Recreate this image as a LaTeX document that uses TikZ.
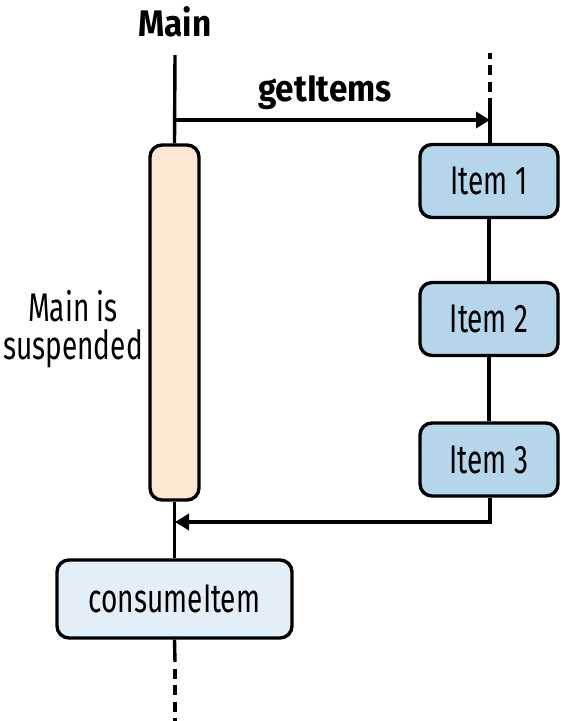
\documentclass[tikz,border=0pt]{standalone}
\usepackage{fontspec}
\setmainfont[FakeStretch=0.7,BoldFeatures={FakeStretch=0.9}]{Fira Sans}
\usetikzlibrary{arrows.meta}
\definecolor{peach}{HTML}{FCE7D3}
\definecolor{itemblue}{HTML}{B4D5EA}
\definecolor{paleblue}{HTML}{E3EFF8}
\begin{document}
\begin{tikzpicture}[x=1pt,y=-1pt,
  ln/.style={line width=3.4pt,black},
  arr/.style={ln,-{Triangle[length=14pt,width=16pt]}},
  dsh/.style={ln,dash pattern=on 10pt off 6.5pt,dash phase=10pt},
  box/.style={draw,line width=3.4pt,rounded corners=12pt,inner sep=0pt,font=\fontsize{40}{44}\selectfont},
  itembox/.style={box,fill=itemblue,minimum width=138pt,minimum height=73pt},
  lbl/.style={font=\fontsize{37}{40}\selectfont\bfseries}]
\useasboundingbox (0,0) rectangle (562,721);
\node[lbl] (main) at (175,22) {Main};
\coordinate (mtop) at (175,55);
\node[box,fill=peach,minimum width=49pt,minimum height=355pt] (susp) at (174.5,322.5) {};
\node[font=\fontsize{40}{38}\selectfont,align=center] (susptxt) at (73,329) {Main is\\suspended};
\coordinate (rtop) at (490,53);
\coordinate (rmid) at (490,98);
\node[itembox] (i1) at (489,181) {Item 1};
\node[itembox] (i2) at (489,319) {Item 2};
\node[itembox] (i3) at (489,459.5) {Item 3};
\node[box,fill=paleblue,minimum width=235pt,minimum height=78pt] (ci) at (174.5,599) {consumeItem};
\coordinate (cibot) at (175,662);
\coordinate (mend) at (175,724);
\coordinate (call) at (175,120);
\coordinate (callend) at (490,120);
\coordinate (ret) at (490,522);
\coordinate (retend) at (175,522);
\node[lbl] (gi) at (325,93) {getItems};
% lifelines
\draw[ln] (mtop) -- (susp.north);
\draw[ln] (susp.south) -- (ci.north);
\draw[ln] (ci.south) -- (cibot);
\draw[dsh] (cibot) -- (mend);
\draw[dsh] (rmid) -- (rtop);
\draw[ln] (rmid) -- (i1.north -| rmid);
\draw[ln] (i1) -- (i2);
\draw[ln] (i2) -- (i3);
% messages
\draw[arr] (call) -- (callend);
\draw[arr] (i3.south -| ret) -- (ret) -- (retend);
\end{tikzpicture}
\end{document}
